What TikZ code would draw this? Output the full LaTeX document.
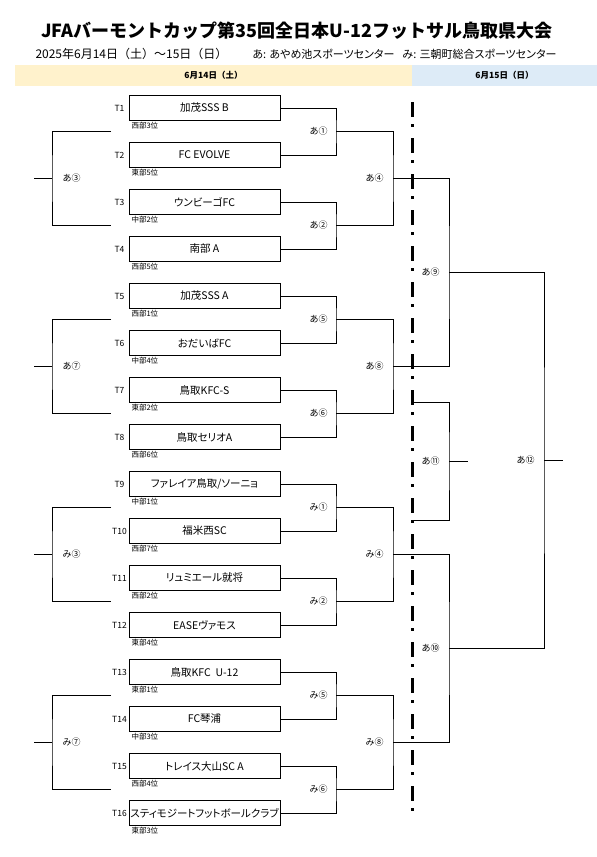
\documentclass[tikz,border=0pt]{standalone}
\usepackage{fontspec}
\setmainfont{Noto Sans CJK JP}
\newfontfamily\propfont{Noto Sans CJK JP}[RawFeature=+palt]
\usetikzlibrary{positioning}
\definecolor{dayone}{HTML}{FFF2CC}
\definecolor{daytwo}{HTML}{DDEBF7}

\begin{document}
\begin{tikzpicture}[x=1pt, y=-1pt, node distance=47pt, line width=1pt]
    \tikzstyle{team}=[draw, rectangle, minimum width=151pt, minimum height=25pt,
                      inner sep=0pt, font=\propfont\fontsize{10.5}{12}\selectfont]
    \tikzstyle{tag}=[anchor=center, xshift=-9pt, inner sep=0pt, font=\fontsize{8.5}{9}\selectfont]
    \tikzstyle{rank}=[anchor=north west, xshift=-74.5pt, inner sep=1pt, font=\fontsize{7.5}{8}\selectfont]
    \tikzstyle{game}=[anchor=east, inner sep=0pt, font=\fontsize{9}{10}\selectfont]
    \tikzstyle{band}=[minimum height=21pt, inner sep=0pt, font=\bfseries\fontsize{8.5}{10}\selectfont]
    \tikzstyle{dayline}=[line width=3pt, dash pattern=on 15pt off 7pt on 3pt off 11pt]

    \useasboundingbox (0,0) rectangle (597,857);

    \node[font=\bfseries\fontsize{18}{20}\selectfont] (title) at (296.5,31) {JFAバーモントカップ第35回全日本U-12フットサル鳥取県大会};
    \node[anchor=west, inner sep=0pt, font=\fontsize{12}{14}\selectfont] (dates) at (35,54) {2025年6月14日（土）～15日（日）};
    \node[anchor=west, inner sep=0pt, font=\propfont\fontsize{11}{14}\selectfont] (venuea) at (252,54) {あ: あやめ池スポーツセンター};
    \node[anchor=west, inner sep=0pt, font=\propfont\fontsize{11}{14}\selectfont] (venuem) at (402,54) {み: 三朝町総合スポーツセンター};
    \node[band, fill=dayone, minimum width=397pt] (sat) at (213.5,75.5) {6月14日（土）};
    \node[band, fill=daytwo, minimum width=185pt] (sun) at (504.5,75.5) {6月15日（日）};

    \node[team, label={[tag,name=g1]left:T1},   label={[rank,name=r1]below:西部3位}]  (t1) at (204.5,108) {加茂SSS B};
    \node[team, label={[tag,name=g2]left:T2},   label={[rank,name=r2]below:東部5位}]  (t2) [below of=t1]  {FC EVOLVE};
    \node[team, label={[tag,name=g3]left:T3},   label={[rank,name=r3]below:中部2位}]  (t3) [below of=t2]  {ウンビーゴFC};
    \node[team, label={[tag,name=g4]left:T4},   label={[rank,name=r4]below:西部5位}]  (t4) [below of=t3]  {南部 A};
    \node[team, label={[tag,name=g5]left:T5},   label={[rank,name=r5]below:西部1位}]  (t5) [below of=t4]  {加茂SSS A};
    \node[team, label={[tag,name=g6]left:T6},   label={[rank,name=r6]below:中部4位}]  (t6) [below of=t5]  {おだいばFC};
    \node[team, label={[tag,name=g7]left:T7},   label={[rank,name=r7]below:東部2位}]  (t7) [below of=t6]  {鳥取KFC-S};
    \node[team, label={[tag,name=g8]left:T8},   label={[rank,name=r8]below:西部6位}]  (t8) [below of=t7]  {鳥取セリオA};
    \node[team, label={[tag,name=g9]left:T9},   label={[rank,name=r9]below:中部1位}]  (t9) [below of=t8]  {ファレイア鳥取/ソーニョ};
    \node[team, label={[tag,name=g10]left:T10}, label={[rank,name=r10]below:西部7位}] (t10) [below of=t9]  {福米西SC};
    \node[team, label={[tag,name=g11]left:T11}, label={[rank,name=r11]below:西部2位}] (t11) [below of=t10] {リュミエール就将};
    \node[team, label={[tag,name=g12]left:T12}, label={[rank,name=r12]below:東部4位}] (t12) [below of=t11] {EASEヴァモス};
    \node[team, label={[tag,name=g13]left:T13}, label={[rank,name=r13]below:東部1位}] (t13) [below of=t12] {鳥取KFC\ \ U-12};
    \node[team, label={[tag,name=g14]left:T14}, label={[rank,name=r14]below:中部3位}] (t14) [below of=t13] {FC琴浦};
    \node[team, label={[tag,name=g15]left:T15}, label={[rank,name=r15]below:西部4位}] (t15) [below of=t14] {トレイス大山SC A};
    \node[team, label={[tag,name=g16]left:T16}, label={[rank,name=r16]below:東部3位}] (t16) [below of=t15] {スティモジートフットボールクラブ};

    \coordinate (a1) at (336,131.5);
    \coordinate (a2) at (336,225.5);
    \coordinate (a5) at (336,319.5);
    \coordinate (a6) at (336,413.5);
    \coordinate (m1) at (336,507.5);
    \coordinate (m2) at (336,601.5);
    \coordinate (m5) at (336,695.5);
    \coordinate (m6) at (336,789.5);
    \coordinate (a4) at (393,178.5);
    \coordinate (a8) at (393,366.5);
    \coordinate (m4) at (393,554.5);
    \coordinate (m8) at (393,742.5);
    \coordinate (a9) at (449,272.5);
    \coordinate (a10) at (449,648.5);
    \coordinate (a12) at (544,460.5);
    \coordinate (a12o) at (563,460.5);
    \coordinate (a11u) at (412,402);
    \coordinate (a11d) at (412,520);
    \coordinate (a11) at (449,461);
    \coordinate (a11o) at (468,461);
    \coordinate (a3u) at (111,131.5);
    \coordinate (a3d) at (111,225.5);
    \coordinate (a3) at (52,178.5);
    \coordinate (a3o) at (34,178.5);
    \coordinate (a7u) at (111,319.5);
    \coordinate (a7d) at (111,413.5);
    \coordinate (a7) at (52,366.5);
    \coordinate (a7o) at (34,366.5);
    \coordinate (m3u) at (111,507.5);
    \coordinate (m3d) at (111,601.5);
    \coordinate (m3) at (52,554.5);
    \coordinate (m3o) at (34,554.5);
    \coordinate (m7u) at (111,695.5);
    \coordinate (m7d) at (111,789.5);
    \coordinate (m7) at (52,742.5);
    \coordinate (m7o) at (34,742.5);
    \coordinate (dtop) at (412,102);
    \coordinate (dbot) at (412,818);

    \draw (t1.east) -| (a1) |- (t2.east);
    \draw (t3.east) -| (a2) |- (t4.east);
    \draw (t5.east) -| (a5) |- (t6.east);
    \draw (t7.east) -| (a6) |- (t8.east);
    \draw (t9.east) -| (m1) |- (t10.east);
    \draw (t11.east) -| (m2) |- (t12.east);
    \draw (t13.east) -| (m5) |- (t14.east);
    \draw (t15.east) -| (m6) |- (t16.east);
    \draw (a1) -| (a4) |- (a2);
    \draw (a5) -| (a8) |- (a6);
    \draw (m1) -| (m4) |- (m2);
    \draw (m5) -| (m8) |- (m6);
    \draw (a4) -| (a9) |- (a8);
    \draw (m4) -| (a10) |- (m8);
    \draw (a9) -| (a12) |- (a10);
    \draw (a12) -- (a12o);
    \draw (a11u) -| (a11) |- (a11d);
    \draw (a11) -- (a11o);
    \draw (a3u) -| (a3) |- (a3d);  \draw (a3o) -- (a3);
    \draw (a7u) -| (a7) |- (a7d);  \draw (a7o) -- (a7);
    \draw (m3u) -| (m3) |- (m3d);  \draw (m3o) -- (m3);
    \draw (m7u) -| (m7) |- (m7d);  \draw (m7o) -- (m7);
    \draw[dayline] (dtop) -- (dbot);

    \node[game] (la1) at ([xshift=-8pt]a1) {あ①};
    \node[game] (la2) at ([xshift=-8pt]a2) {あ②};
    \node[game] (la5) at ([xshift=-8pt]a5) {あ⑤};
    \node[game] (la6) at ([xshift=-8pt]a6) {あ⑥};
    \node[game] (lm1) at ([xshift=-8pt]m1) {み①};
    \node[game] (lm2) at ([xshift=-8pt]m2) {み②};
    \node[game] (lm5) at ([xshift=-8pt]m5) {み⑤};
    \node[game] (lm6) at ([xshift=-8pt]m6) {み⑥};
    \node[game] (la4) at ([xshift=-9pt]a4) {あ④};
    \node[game] (la8) at ([xshift=-9pt]a8) {あ⑧};
    \node[game] (lm4) at ([xshift=-9pt]m4) {み④};
    \node[game] (lm8) at ([xshift=-9pt]m8) {み⑧};
    \node[game] (la9) at ([xshift=-9pt]a9) {あ⑨};
    \node[game] (la10) at ([xshift=-9pt]a10) {あ⑩};
    \node[game] (la11) at ([xshift=-9pt]a11) {あ⑪};
    \node[game] (la12) at ([xshift=-9pt]a12) {あ⑫};
    \node[game, anchor=west] (la3) at ([xshift=10pt]a3) {あ③};
    \node[game, anchor=west] (la7) at ([xshift=10pt]a7) {あ⑦};
    \node[game, anchor=west] (lm3) at ([xshift=10pt]m3) {み③};
    \node[game, anchor=west] (lm7) at ([xshift=10pt]m7) {み⑦};
\end{tikzpicture}
\end{document}
